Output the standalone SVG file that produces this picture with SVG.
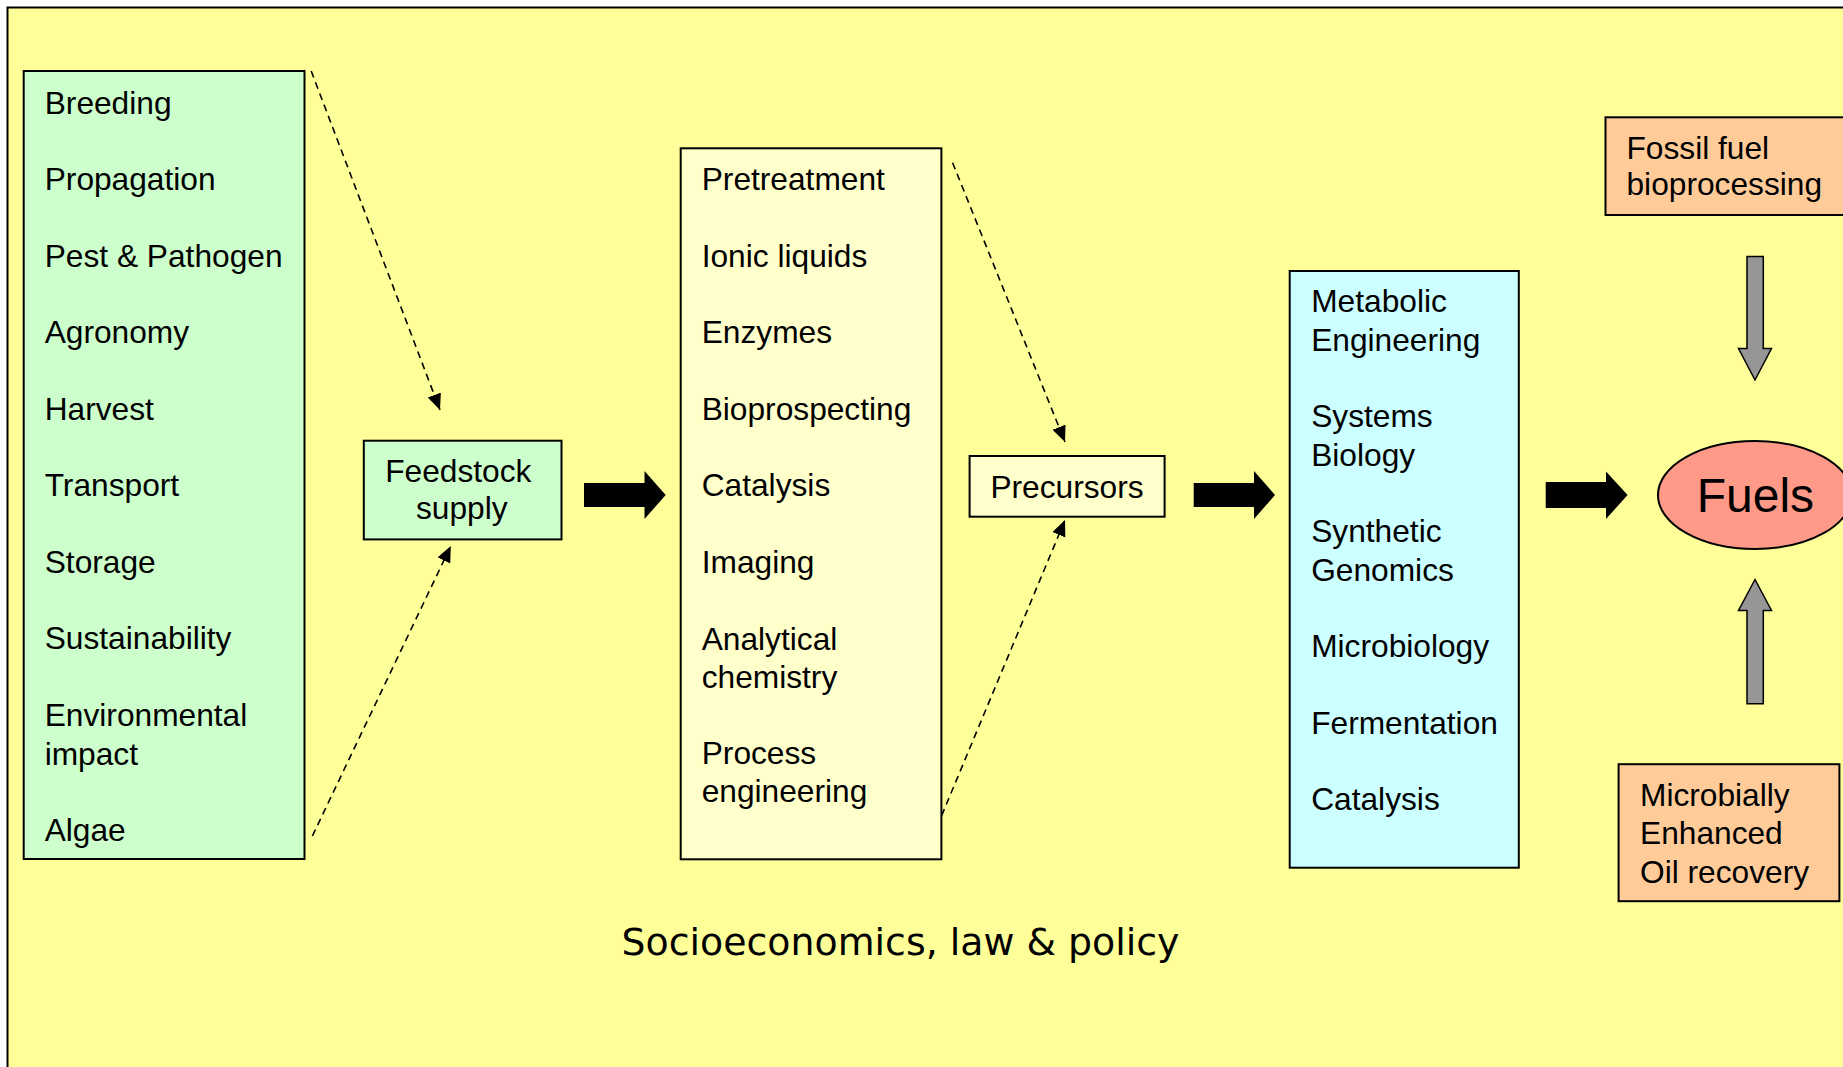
<svg xmlns="http://www.w3.org/2000/svg" width="1843" height="1067" viewBox="0 0 1843 1067">
<style>
.t{font-family:"Liberation Sans",Arial,sans-serif;font-size:31.7px;fill:#000}
.box{stroke:#000;stroke-width:2}
.dash{fill:none;stroke:#000;stroke-width:1.6;stroke-dasharray:7 5}
.big{fill:#000;stroke:none}
.gray{fill:#969696;stroke:#000;stroke-width:1.5}
</style>
<defs>
<marker id="ah" markerUnits="userSpaceOnUse" markerWidth="18" markerHeight="16" refX="16" refY="7" orient="auto">
<path d="M0,0 L16,7 L0,14 z" fill="#000"/>
</marker>
</defs>
<rect x="0" y="0" width="1843" height="1067" fill="#fff"/>
<rect x="7.5" y="7.5" width="1900" height="1100" fill="#FFFF99" stroke="#000" stroke-width="2"/>

<g id="connectors">
<line class="dash" x1="311.2" y1="71" x2="440" y2="410" marker-end="url(#ah)"/>
<line class="dash" x1="312.4" y1="836" x2="450.8" y2="546" marker-end="url(#ah)"/>
<line class="dash" x1="952.6" y1="162.7" x2="1065" y2="442" marker-end="url(#ah)"/>
<line class="dash" x1="937" y1="826.7" x2="1065" y2="520" marker-end="url(#ah)"/>
<polygon class="big" points="584,483 644.5,483 644.5,471 665.7,495 644.5,519 644.5,507 584,507"/>
<polygon class="big" points="1193.7,483 1254,483 1254,471 1275,495 1254,519 1254,507 1193.7,507"/>
<polygon class="big" points="1545.7,482 1606,482 1606,471.5 1627.6,495 1606,519 1606,508 1545.7,508"/>
<polygon class="gray" points="1747,256.5 1763.3,256.5 1763.3,348.5 1771.5,348.5 1755,380 1738.5,348.5 1747,348.5"/>
<polygon class="gray" points="1755,579.5 1771.5,610.5 1763.3,610.5 1763.3,703.7 1747,703.7 1747,610.5 1738.5,610.5"/>
</g>

<g id="feedstock-topics">
<rect class="box" x="23.7" y="71" width="280.8" height="788" fill="#CCFFCC"/>
<text class="t" x="44.7" y="113.5">Breeding</text>
<text class="t" x="44.7" y="190">Propagation</text>
<text class="t" x="44.7" y="266.5">Pest &amp; Pathogen</text>
<text class="t" x="44.7" y="343">Agronomy</text>
<text class="t" x="44.7" y="419.5">Harvest</text>
<text class="t" x="44.7" y="496">Transport</text>
<text class="t" x="44.7" y="572.5">Storage</text>
<text class="t" x="44.7" y="649">Sustainability</text>
<text class="t" x="44.7" y="726">Environmental</text>
<text class="t" x="44.7" y="764.5">impact</text>
<text class="t" x="44.7" y="841">Algae</text>
</g>

<g id="feedstock-supply">
<rect class="box" x="363.8" y="440.7" width="197.7" height="98.7" fill="#CCFFCC"/>
<text class="t" x="458.3" y="481.5" text-anchor="middle">Feedstock</text>
<text class="t" x="461.8" y="519" text-anchor="middle">supply</text>
</g>

<g id="deconstruction-topics">
<rect class="box" x="680.7" y="148.3" width="260.7" height="711" fill="#FFFFCC"/>
<text class="t" x="701.7" y="190">Pretreatment</text>
<text class="t" x="701.7" y="266.5">Ionic liquids</text>
<text class="t" x="701.7" y="343">Enzymes</text>
<text class="t" x="701.7" y="419.5">Bioprospecting</text>
<text class="t" x="701.7" y="496">Catalysis</text>
<text class="t" x="701.7" y="572.5">Imaging</text>
<text class="t" x="701.7" y="650">Analytical</text>
<text class="t" x="701.7" y="688">chemistry</text>
<text class="t" x="701.7" y="764">Process</text>
<text class="t" x="701.7" y="802">engineering</text>
</g>

<g id="precursors">
<rect class="box" x="969.6" y="456" width="195" height="60.7" fill="#FFFFCC"/>
<text class="t" x="1067" y="497.7" text-anchor="middle">Precursors</text>
</g>

<g id="synthesis-topics">
<rect class="box" x="1289.7" y="271" width="229.1" height="596.7" fill="#CCFFFF"/>
<text class="t" x="1311.2" y="312">Metabolic</text>
<text class="t" x="1311.2" y="350.5">Engineering</text>
<text class="t" x="1311.2" y="427">Systems</text>
<text class="t" x="1311.2" y="465.5">Biology</text>
<text class="t" x="1311.2" y="542">Synthetic</text>
<text class="t" x="1311.2" y="580.5">Genomics</text>
<text class="t" x="1311.2" y="657">Microbiology</text>
<text class="t" x="1311.2" y="733.5">Fermentation</text>
<text class="t" x="1311.2" y="810">Catalysis</text>
</g>

<g id="fossil-fuel">
<rect class="box" x="1605.5" y="117.3" width="260" height="97.7" fill="#FFCC99"/>
<text class="t" x="1626.5" y="159.3">Fossil fuel</text>
<text class="t" x="1626.5" y="195">bioprocessing</text>
</g>

<g id="fuels">
<ellipse cx="1755" cy="495" rx="97" ry="54" fill="#FF9A88" stroke="#000" stroke-width="2"/>
<text x="1755.4" y="511.7" text-anchor="middle" style="font-family:'Liberation Sans',Arial,sans-serif;font-size:48px">Fuels</text>
</g>

<g id="meor">
<rect class="box" x="1618.6" y="764.2" width="220.8" height="137" fill="#FFCC99"/>
<text class="t" x="1640" y="805.5">Microbially</text>
<text class="t" x="1640" y="844.2">Enhanced</text>
<text class="t" x="1640" y="882.9">Oil recovery</text>
</g>

<text x="621.5" y="955" textLength="558" lengthAdjust="spacingAndGlyphs" style="font-family:'Comic Sans MS','DejaVu Sans',sans-serif;font-size:38px">Socioeconomics, law &amp; policy</text>
</svg>
